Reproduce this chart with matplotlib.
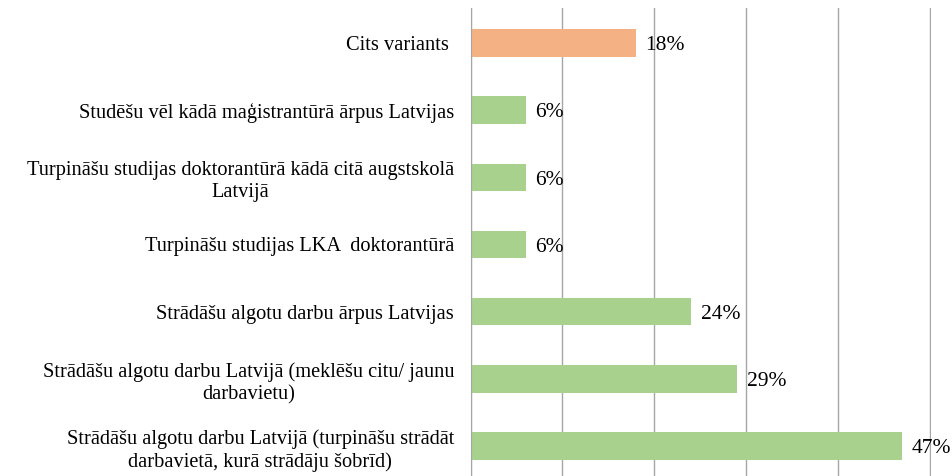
import matplotlib.pyplot as plt

# categories listed from bottom to top
categories = [
    "Strādāšu algotu darbu Latvijā (turpināšu strādāt\ndarbavietā, kurā strādāju šobrīd)",
    "Strādāšu algotu darbu Latvijā (meklēšu citu/ jaunu\ndarbavietu)",
    "Strādāšu algotu darbu ārpus Latvijas",
    "Turpināšu studijas LKA  doktorantūrā",
    "Turpināšu studijas doktorantūrā kādā citā augstskolā\nLatvijā",
    "Studēšu vēl kādā maģistrantūrā ārpus Latvijas",
    "Cits variants ",
]
values = [47, 29, 24, 6, 6, 6, 18]
colors = ["#A9D18E"] * 6 + ["#F4B183"]

plt.rcParams["font.family"] = ["Liberation Serif", "DejaVu Serif"]

fig = plt.figure(figsize=(9.53, 4.76), dpi=100)
ax = fig.add_axes([0.4939, -0.0105, 0.4826, 0.9937])

pos = range(len(categories))
ax.barh(pos, values, height=0.41, color=colors, zorder=2)
ax.set_xlim(0, 50.1)
ax.set_ylim(-0.52, len(categories) - 0.48)
ax.set_xticks(range(0, 51, 10))
ax.set_xticklabels([])
ax.tick_params(axis="x", length=0)
ax.tick_params(axis="y", length=0, pad=12)
ax.set_yticks(list(pos))
ax.set_yticklabels(categories, fontsize=14.7, multialignment="center", linespacing=1.25)
ax.grid(axis="x", color="#A6A6A6", linewidth=1, zorder=0)
for s in ["top", "right", "bottom"]:
    ax.spines[s].set_visible(False)
ax.spines["left"].set_color("#A6A6A6")

for i, v in enumerate(values):
    ax.annotate(f"{v}%", (v, i), xytext=(7, -2), textcoords="offset points",
                va="center", ha="left", fontsize=15.5, zorder=3, annotation_clip=False)

fig.savefig("out.png", dpi=100)
